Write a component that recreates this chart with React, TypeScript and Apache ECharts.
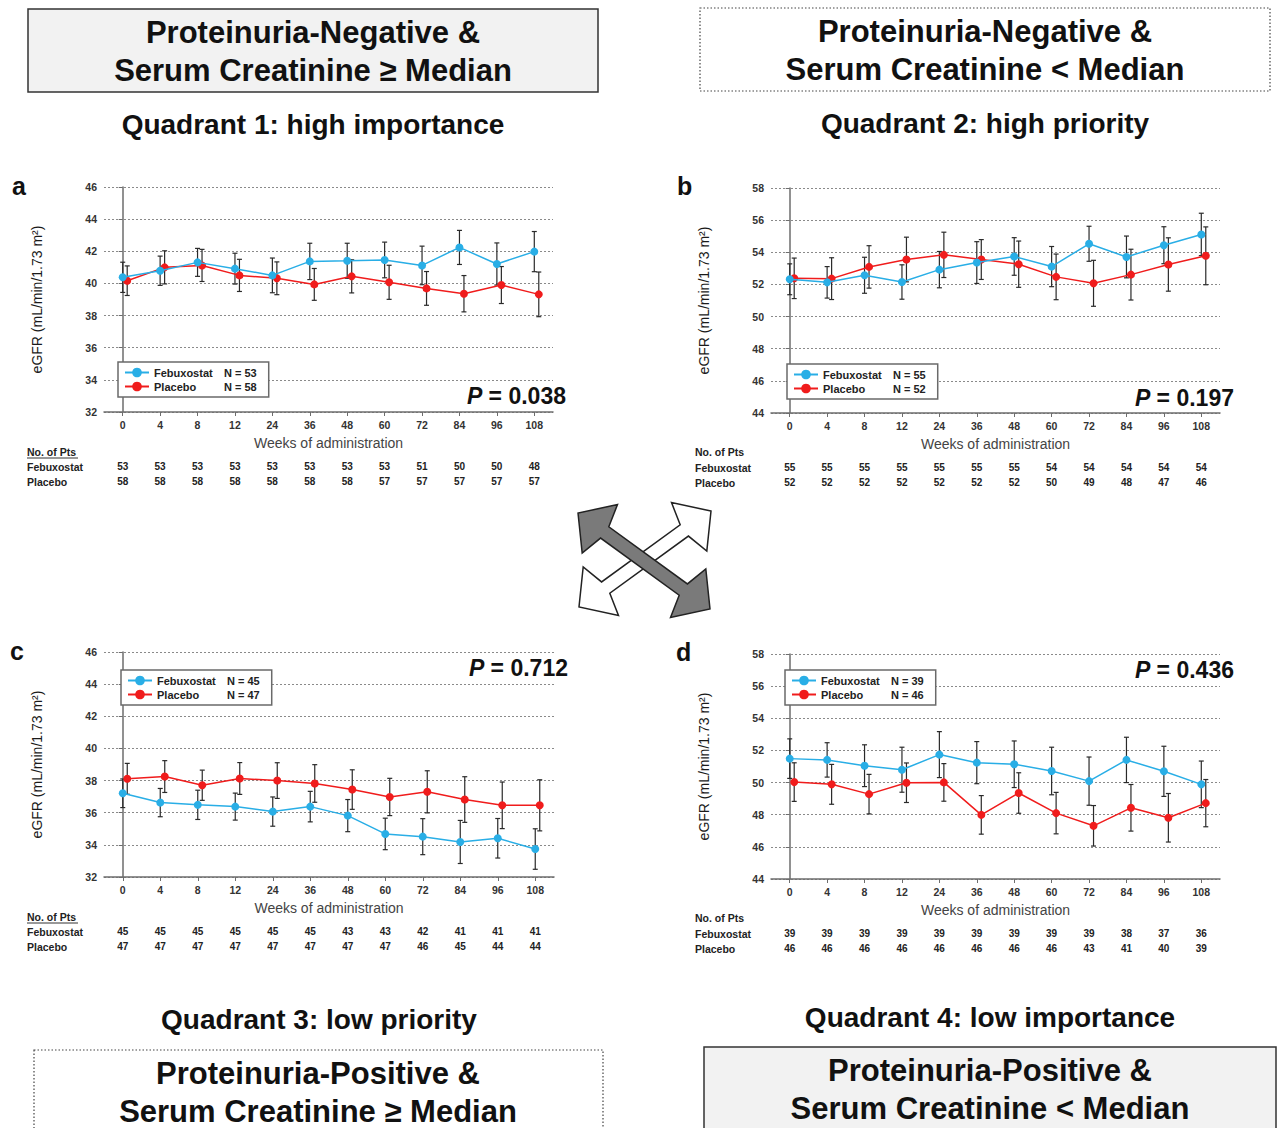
import React, { useEffect, useRef } from 'react';
import * as echarts from 'echarts';

const FONT = '"Liberation Sans", Arial, Helvetica, sans-serif';

// ---- categories ----
const weeks = ['0', '4', '8', '12', '24', '36', '48', '60', '72', '84', '96', '108'];

// ---- panel a (Proteinuria-negative, SCr >= median) ----
const aFebMean = [40.38, 40.79, 41.31, 40.92, 40.5, 41.37, 41.41, 41.46, 41.12, 42.24, 41.21, 41.98];
const aFebErr = [0.94, 0.91, 0.87, 0.96, 1.08, 1.13, 1.09, 1.11, 1.2, 1.06, 1.31, 1.25];
const aPlaMean = [40.17, 41.0, 41.12, 40.5, 40.32, 39.94, 40.44, 40.07, 39.69, 39.36, 39.9, 39.32];
const aPlaErr = [0.92, 1.03, 1.0, 1.0, 1.02, 0.99, 1.03, 1.06, 1.05, 1.13, 1.15, 1.39];
const aFebN = [53, 53, 53, 53, 53, 53, 53, 53, 51, 50, 50, 48];
const aPlaN = [58, 58, 58, 58, 58, 58, 58, 57, 57, 57, 57, 57];

// ---- panel b (Proteinuria-negative, SCr < median) ----
const bFebMean = [52.32, 52.13, 52.57, 52.15, 52.92, 53.36, 53.74, 53.11, 54.53, 53.71, 54.44, 55.11];
const bFebErr = [0.96, 0.98, 1.12, 1.07, 1.13, 1.3, 1.17, 1.25, 1.09, 1.3, 1.15, 1.32];
const bPlaMean = [52.38, 52.36, 53.09, 53.55, 53.84, 53.55, 53.26, 52.47, 52.07, 52.61, 53.24, 53.78];
const bPlaErr = [1.26, 1.3, 1.32, 1.39, 1.41, 1.24, 1.44, 1.42, 1.43, 1.58, 1.66, 1.8];
const bFebN = [55, 55, 55, 55, 55, 55, 55, 54, 54, 54, 54, 54];
const bPlaN = [52, 52, 52, 52, 52, 52, 52, 50, 49, 48, 47, 46];

// ---- panel c (Proteinuria-positive, SCr >= median) ----
const cFebMean = [37.21, 36.63, 36.49, 36.38, 36.07, 36.38, 35.82, 34.68, 34.51, 34.18, 34.41, 33.74];
const cFebErr = [0.89, 0.88, 0.91, 0.84, 0.91, 0.95, 1.0, 0.98, 1.12, 1.34, 1.23, 1.26];
const cPlaMean = [38.11, 38.25, 37.71, 38.13, 38.0, 37.82, 37.44, 36.98, 37.3, 36.82, 36.46, 36.46];
const cPlaErr = [0.96, 0.99, 0.94, 0.99, 1.11, 1.17, 1.23, 1.16, 1.31, 1.42, 1.45, 1.59];
const cFebN = [45, 45, 45, 45, 45, 45, 43, 43, 42, 41, 41, 41];
const cPlaN = [47, 47, 47, 47, 47, 47, 47, 47, 46, 45, 44, 44];

// ---- panel d (Proteinuria-positive, SCr < median) ----
const dFebMean = [51.49, 51.41, 51.05, 50.8, 51.74, 51.24, 51.14, 50.72, 50.09, 51.41, 50.7, 49.89];
const dFebErr = [1.23, 1.07, 1.3, 1.4, 1.43, 1.31, 1.45, 1.48, 1.5, 1.41, 1.56, 1.45];
const dPlaMean = [50.03, 49.89, 49.28, 49.99, 50.01, 47.99, 49.35, 48.1, 47.31, 48.43, 47.81, 48.72];
const dPlaErr = [1.2, 1.24, 1.23, 1.23, 1.17, 1.2, 1.26, 1.29, 1.26, 1.45, 1.51, 1.47];
const dFebN = [39, 39, 39, 39, 39, 39, 39, 39, 39, 38, 37, 36];
const dPlaN = [46, 46, 46, 46, 46, 46, 46, 46, 43, 41, 40, 39];

const totalN = [
  [53, 58],
  [55, 52],
  [45, 47],
  [39, 46],
];
const pValues = ['0.038', '0.197', '0.712', '0.436'];
const yRanges = [
  [32, 46],
  [44, 58],
  [32, 46],
  [44, 58],
];
const panelLetters = ['a', 'b', 'c', 'd'];

const FEB_COLOR = '#29aee6';
const PLA_COLOR = '#f01c1c';
const PLA_SHIFT = 0.12;

const layout = [
  { grid: { left: 104, top: 187, width: 449, height: 225 }, legend: { left: 118, top: 362 }, p: [566, 396], letter: [12, 186], tableX: 27, rows: [452, 467, 482], underline: true },
  { grid: { left: 771, top: 188, width: 449, height: 225 }, legend: { left: 787, top: 364 }, p: [1234, 398], letter: [677, 186], tableX: 695, rows: [452, 468, 483], underline: false },
  { grid: { left: 104, top: 652, width: 450, height: 225 }, legend: { left: 121, top: 670 }, p: [568, 668], letter: [10, 651], tableX: 27, rows: [917, 932, 947], underline: true },
  { grid: { left: 771, top: 654, width: 449, height: 225 }, legend: { left: 785, top: 670 }, p: [1234, 670], letter: [676, 652], tableX: 695, rows: [918, 934, 949], underline: false },
];

const panelData = [
  { fm: aFebMean, fe: aFebErr, pm: aPlaMean, pe: aPlaErr, fn: aFebN, pn: aPlaN },
  { fm: bFebMean, fe: bFebErr, pm: bPlaMean, pe: bPlaErr, fn: bFebN, pn: bPlaN },
  { fm: cFebMean, fe: cFebErr, pm: cPlaMean, pe: cPlaErr, fn: cFebN, pn: cPlaN },
  { fm: dFebMean, fe: dFebErr, pm: dPlaMean, pe: dPlaErr, fn: dFebN, pn: dPlaN },
];

function arrowPoints(x1: number, y1: number, x2: number, y2: number, shaft = 7, head = 30, headLen = 27, notch = 33) {
  const dx = x2 - x1;
  const dy = y2 - y1;
  const L = Math.hypot(dx, dy);
  const ux = dx / L;
  const uy = dy / L;
  const px = -uy;
  const py = ux;
  const P = (a: number, p: number) => [x1 + ux * a + px * p, y1 + uy * a + py * p];
  return [
    P(0, 0), P(headLen, head), P(notch, shaft), P(L - notch, shaft), P(L - headLen, head),
    P(L, 0), P(L - headLen, -head), P(L - notch, -shaft), P(notch, -shaft), P(headLen, -head),
  ];
}

function errRender(params: any, api: any) {
  const x = api.value(0);
  const lo = api.value(1);
  const hi = api.value(2);
  const top = api.coord([x, hi]);
  const bot = api.coord([x, lo]);
  const cw = 2.5;
  const style = { stroke: '#2a2a2a', lineWidth: 1.2 };
  return {
    type: 'group',
    children: [
      { type: 'line', shape: { x1: top[0], y1: top[1], x2: bot[0], y2: bot[1] }, style },
      { type: 'line', shape: { x1: top[0] - cw, y1: top[1], x2: top[0] + cw, y2: top[1] }, style },
      { type: 'line', shape: { x1: bot[0] - cw, y1: bot[1], x2: bot[0] + cw, y2: bot[1] }, style },
    ],
  };
}

function buildOption() {
  const grids: any[] = [];
  const xAxes: any[] = [];
  const yAxes: any[] = [];
  const series: any[] = [];
  const legends: any[] = [];
  const graphics: any[] = [];

  layout.forEach((L, k) => {
    const D = panelData[k];
    grids.push({ ...L.grid, containLabel: false });
    // hidden value axis for marks
    xAxes.push({ type: 'value', gridIndex: k, min: -0.5, max: 11.5, show: false, position: 'bottom' });
    // visible category axis with week labels
    xAxes.push({
      type: 'category', gridIndex: k, data: weeks, position: 'bottom', boundaryGap: true,
      name: 'Weeks of administration', nameLocation: 'middle', nameGap: 24,
      nameTextStyle: { fontFamily: FONT, fontSize: 14, color: '#444' },
      axisLine: { show: true, lineStyle: { color: '#6d6d6d', width: 1.5 } },
      axisTick: { show: true, alignWithLabel: true, length: 4, lineStyle: { color: '#6d6d6d' } },
      axisLabel: { margin: 7, fontFamily: FONT, fontSize: 10.5, fontWeight: 'bold', color: '#333' },
      splitLine: { show: false },
    });
    // count rows
    [D.fn, D.pn].forEach((counts, r) => {
      xAxes.push({
        type: 'category', gridIndex: k, data: counts.map(String), position: 'bottom', offset: r === 0 ? 49 : 64,
        axisLine: { show: false }, axisTick: { show: false }, splitLine: { show: false },
        axisLabel: { margin: 0, fontFamily: FONT, fontSize: 10, fontWeight: 'bold', color: '#222' },
      });
    });
    const [ymin, ymax] = yRanges[k];
    yAxes.push({
      type: 'value', gridIndex: k, min: ymin, max: ymax, interval: 2,
      name: 'eGFR (mL/min/1.73 m²)', nameLocation: 'middle', nameGap: 60,
      nameTextStyle: { fontFamily: FONT, fontSize: 14, color: '#1a1a1a' },
      axisLine: { show: true, lineStyle: { color: '#6d6d6d', width: 1.5 } },
      axisTick: { show: true, length: 4, lineStyle: { color: '#6d6d6d' } },
      axisLabel: { margin: 7, fontFamily: FONT, fontSize: 10.5, fontWeight: 'bold', color: '#333' },
      splitLine: { show: true, lineStyle: { type: [2, 2], color: '#8a8a8a', width: 1 } },
    });
    const xi = k * 4;
    series.push({
      type: 'custom', name: 'errF' + k, xAxisIndex: xi, yAxisIndex: k, z: 2,
      data: D.fm.map((m, i) => [i, m - D.fe[i], m + D.fe[i]]),
      encode: { x: 0, y: [1, 2] }, renderItem: errRender,
    });
    series.push({
      type: 'custom', name: 'errP' + k, xAxisIndex: xi, yAxisIndex: k, z: 2,
      data: D.pm.map((m, i) => [i + PLA_SHIFT, m - D.pe[i], m + D.pe[i]]),
      encode: { x: 0, y: [1, 2] }, renderItem: errRender,
    });
    series.push({
      type: 'line', name: 'Febuxostat', xAxisIndex: xi, yAxisIndex: k, z: 4,
      data: D.fm.map((m, i) => [i, m]),
      symbol: 'circle', symbolSize: 8, itemStyle: { color: FEB_COLOR }, lineStyle: { color: FEB_COLOR, width: 1.5 },
    });
    series.push({
      type: 'line', name: 'Placebo', xAxisIndex: xi, yAxisIndex: k, z: 3,
      data: D.pm.map((m, i) => [i + PLA_SHIFT, m]),
      symbol: 'circle', symbolSize: 8, itemStyle: { color: PLA_COLOR }, lineStyle: { color: PLA_COLOR, width: 1.5 },
    });
    const nf = totalN[k][0];
    const np = totalN[k][1];
    legends.push({
      ...L.legend, orient: 'vertical', data: ['Febuxostat', 'Placebo'],
      backgroundColor: '#fff', borderColor: '#6a6a6a', borderWidth: 1.5, padding: [5, 12, 5, 6], itemGap: 3,
      itemWidth: 24, itemHeight: 12,
      formatter: (name: string) => (name === 'Febuxostat' ? `{a|Febuxostat}{b|N = ${nf}}` : `{a|Placebo}{b|N = ${np}}`),
      textStyle: {
        fontFamily: FONT,
        rich: {
          a: { fontFamily: FONT, fontSize: 11, fontWeight: 'bold', color: '#222', width: 70 },
          b: { fontFamily: FONT, fontSize: 11, fontWeight: 'bold', color: '#222', width: 38 },
        },
      },
    });
    // P value
    graphics.push({
      type: 'text', x: L.p[0], y: L.p[1], z: 10,
      style: {
        text: `{i|P}{n| = ${pValues[k]}}`, align: 'right', verticalAlign: 'middle',
        rich: {
          i: { fontFamily: FONT, fontSize: 23, fontStyle: 'italic', fontWeight: 'bold', fill: '#111' },
          n: { fontFamily: FONT, fontSize: 23, fontWeight: 'bold', fill: '#111' },
        },
      },
    });
    // panel letter
    graphics.push({
      type: 'text', x: L.letter[0], y: L.letter[1],
      style: { text: panelLetters[k], fontFamily: FONT, fontSize: 25, fontWeight: 'bold', fill: '#111', verticalAlign: 'middle' },
    });
    // table labels
    const rowLabels = ['No. of Pts', 'Febuxostat', 'Placebo'];
    rowLabels.forEach((t, r) => {
      graphics.push({
        type: 'text', x: L.tableX, y: L.rows[r],
        style: { text: t, fontFamily: FONT, fontSize: 10.5, fontWeight: 'bold', fill: '#222', verticalAlign: 'middle' },
      });
    });
    if (L.underline) {
      graphics.push({
        type: 'line', shape: { x1: L.tableX, y1: L.rows[0] + 6, x2: L.tableX + 51, y2: L.rows[0] + 6 },
        style: { stroke: '#333', lineWidth: 1 },
      });
    }
  });

  // header boxes
  const boxes = [
    { x: 28, y: 9, w: 570, h: 83, solid: true, cx: 313, l1: 'Proteinuria-Negative &', l2: 'Serum Creatinine ≥ Median', y1: 32, y2: 70 },
    { x: 700, y: 8, w: 570, h: 83, solid: false, cx: 985, l1: 'Proteinuria-Negative &', l2: 'Serum Creatinine < Median', y1: 31, y2: 69 },
    { x: 34, y: 1050, w: 569, h: 95, solid: false, cx: 318, l1: 'Proteinuria-Positive &', l2: 'Serum Creatinine ≥ Median', y1: 1073, y2: 1111 },
    { x: 704, y: 1047, w: 572, h: 95, solid: true, cx: 990, l1: 'Proteinuria-Positive &', l2: 'Serum Creatinine < Median', y1: 1070, y2: 1108 },
  ];
  boxes.forEach((b) => {
    graphics.push({
      type: 'rect', shape: { x: b.x, y: b.y, width: b.w, height: b.h },
      style: b.solid
        ? { fill: '#f2f2f2', stroke: '#333', lineWidth: 1.5 }
        : { fill: '#fff', stroke: '#444', lineWidth: 1.2, lineDash: [1.5, 2] },
    });
    [b.l1, b.l2].forEach((t, i) => {
      graphics.push({
        type: 'text', x: b.cx, y: i === 0 ? b.y1 : b.y2,
        style: { text: t, fontFamily: FONT, fontSize: 31, fontWeight: 'bold', fill: '#111', align: 'center', verticalAlign: 'middle' },
      });
    });
  });
  const quads = [
    { t: 'Quadrant 1: high importance', x: 313, y: 124 },
    { t: 'Quadrant 2: high priority', x: 985, y: 123 },
    { t: 'Quadrant 3: low priority', x: 319, y: 1019 },
    { t: 'Quadrant 4: low importance', x: 990, y: 1017 },
  ];
  quads.forEach((q) => {
    graphics.push({
      type: 'text', x: q.x, y: q.y,
      style: { text: q.t, fontFamily: FONT, fontSize: 28, fontWeight: 'bold', fill: '#111', align: 'center', verticalAlign: 'middle' },
    });
  });

  // crossing arrows
  graphics.push({
    type: 'polygon', shape: { points: arrowPoints(711, 511, 579, 607) },
    style: { fill: '#fff', stroke: '#222', lineWidth: 1.5 }, z: 5,
  });
  graphics.push({
    type: 'polygon', shape: { points: arrowPoints(578, 513, 710, 609) },
    style: { fill: '#7a7a7a', stroke: '#222', lineWidth: 1.5 }, z: 6,
  });

  return {
    animation: false,
    backgroundColor: '#fff',
    textStyle: { fontFamily: FONT },
    grid: grids,
    xAxis: xAxes,
    yAxis: yAxes,
    legend: legends,
    series,
    graphic: graphics,
  };
}

export default function App() {
  const ref = useRef<HTMLDivElement>(null);
  useEffect(() => {
    const chart = echarts.init(ref.current as HTMLDivElement, null, { renderer: 'svg' });
    chart.setOption(buildOption() as any);
    return () => chart.dispose();
  }, []);
  return <div ref={ref} style={{ position: 'absolute', left: 0, top: 0, width: 1280, height: 1128, background: '#fff' }} />;
}
